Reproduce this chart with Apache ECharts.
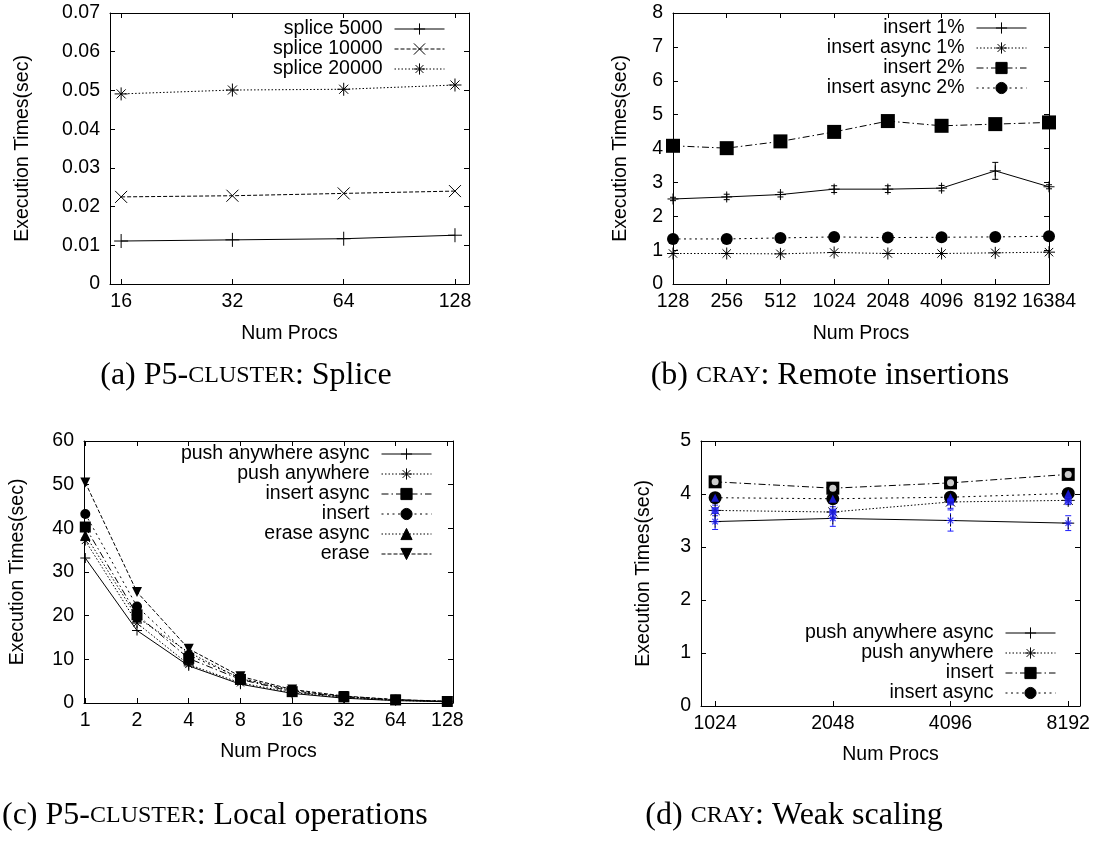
<!DOCTYPE html>
<html>
<head>
<meta charset="utf-8">
<script src="https://cdn.jsdelivr.net/npm/echarts@6/dist/echarts.min.js"></script>
<style>
  html, body { margin: 0; padding: 0; background: #fff; }
  #wrap { position: relative; width: 1108px; height: 842px; }
  .panel { position: absolute; width: 554px; height: 421px; }
</style>
</head>
<body>
<div id="wrap">
  <div class="panel" id="pa" style="left:0;top:0"></div>
  <div class="panel" id="pb" style="left:554px;top:0"></div>
  <div class="panel" id="pc" style="left:0;top:421px"></div>
  <div class="panel" id="pd" style="left:554px;top:421px"></div>
</div>
<script>
// ---------- (a) P5-cluster: splice ----------
const spliceProcs = [16, 32, 64, 128];
const splice5000  = [0.0111, 0.0114, 0.0117, 0.0126];
const splice10000 = [0.0225, 0.0228, 0.0234, 0.0240];
const splice20000 = [0.0491, 0.0501, 0.0503, 0.0514];

// ---------- (b) Cray: remote insertions ----------
const remoteProcs   = [128, 256, 512, 1024, 2048, 4096, 8192, 16384];
const insert1       = [2.51, 2.57, 2.64, 2.80, 2.80, 2.83, 3.34, 2.87];
const insert1Err    = [0.05, 0.08, 0.07, 0.10, 0.10, 0.08, 0.25, 0.06];
const insertAsync1  = [0.90, 0.90, 0.89, 0.93, 0.90, 0.90, 0.92, 0.94];
const insert2       = [4.08, 4.01, 4.21, 4.49, 4.81, 4.67, 4.72, 4.77];
const insertAsync2  = [1.33, 1.33, 1.36, 1.39, 1.37, 1.38, 1.39, 1.41];

// ---------- (c) P5-cluster: local operations ----------
const localProcs        = [1, 2, 4, 8, 16, 32, 64, 128];
const localPushAnyAsync = [33.2, 16.6, 8.5, 4.3, 2.2, 1.1, 0.55, 0.28];
const localPushAny      = [37.2, 18.3, 8.8, 4.6, 2.4, 1.2, 0.60, 0.30];
const localInsertAsync  = [40.3, 20.2, 10.2, 5.4, 2.6, 1.4, 0.70, 0.35];
const localInsert       = [43.3, 22.1, 11.0, 5.7, 2.9, 1.5, 0.75, 0.38];
const localEraseAsync   = [38.5, 19.6, 11.6, 5.6, 2.8, 1.45, 0.72, 0.36];
const localErase        = [50.5, 25.4, 12.4, 6.1, 3.1, 1.6, 0.80, 0.40];

// ---------- (d) Cray: weak scaling ----------
const weakProcs          = [1024, 2048, 4096, 8192];
const weakPushAnyAsync   = [3.48, 3.54, 3.50, 3.45];
const weakPushAnyAsyncEr = [0.15, 0.15, 0.20, 0.14];
const weakPushAny        = [3.69, 3.66, 3.85, 3.88];
const weakPushAnyEr      = [0.10, 0.10, 0.12, 0.08];
const weakInsert         = [4.23, 4.11, 4.21, 4.37];
const weakInsertEr       = [0.08, 0.08, 0.08, 0.06];
const weakInsertAsync    = [3.93, 3.91, 3.94, 4.01];
const weakInsertAsyncEr  = [0.08, 0.08, 0.08, 0.06];

// tick positions (processor counts)
const spliceTicks = [16, 32, 64, 128];
const localTicks  = [1, 2, 4, 8, 16, 32, 64, 128];
const weakTicks   = [1024, 2048, 4096, 8192];

// ---------- shared styling ----------
const SANS = 'Liberation Sans, Arial, sans-serif';
const SERIF = 'Liberation Serif, Times New Roman, serif';
const FS = 19.5;

const SYM = {
  plus:  'path://M0,5L10,5M5,0L5,10',
  cross: 'path://M0,0L10,10M0,10L10,0',
  star:  'path://M0,5L10,5M5,0L5,10M1.5,1.5L8.5,8.5M1.5,8.5L8.5,1.5'
};
const DASH = {
  solid: 'solid',
  dashed: [4, 2],
  dotted: [1.5, 2],
  dotted2: [2, 3.5],
  dashdot: [7, 3, 1.5, 3]
};

const log2 = Math.log2;

function line(name, xs, ys, o) {
  const stroke = o.stroke === true;
  return {
    type: 'line', name,
    data: xs.map((p, i) => [log2(p), ys[i]]),
    symbol: o.symbol, symbolSize: o.size, symbolRotate: o.rotate || 0,
    showSymbol: true, silent: true, animation: false, z: o.z || 3,
    lineStyle: { color: '#000', width: 1, type: o.dash },
    itemStyle: stroke
      ? { color: 'rgba(0,0,0,0)', borderColor: '#000', borderWidth: 1 }
      : { color: '#000', borderColor: '#000', borderWidth: 0 },
    emphasis: { disabled: true }
  };
}

function markers(name, xs, ys, o) {
  const stroke = o.stroke === true;
  return {
    type: 'scatter', name,
    data: xs.map((p, i) => [log2(p), ys[i]]),
    symbol: o.symbol, symbolSize: o.size,
    silent: true, animation: false, z: o.z || 5,
    itemStyle: stroke
      ? { color: 'rgba(0,0,0,0)', borderColor: o.color, borderWidth: 1.2 }
      : { color: o.color, borderColor: o.color, borderWidth: 0 },
    emphasis: { disabled: true }
  };
}

function errorBars(name, xs, ys, errs, color, dash) {
  return {
    type: 'custom', name, silent: true, animation: false, z: 2,
    data: xs.map((p, i) => [log2(p), ys[i] - errs[i], ys[i] + errs[i]]),
    encode: { x: 0, y: [1, 2] },
    renderItem: (params, api) => {
      const x = api.value(0);
      const lo = api.coord([x, api.value(1)]);
      const hi = api.coord([x, api.value(2)]);
      const cap = 3;
      const st = { stroke: color, lineWidth: 1, lineDash: dash || null };
      return {
        type: 'group',
        children: [
          { type: 'line', shape: { x1: lo[0], y1: lo[1], x2: hi[0], y2: hi[1] }, style: st },
          { type: 'line', shape: { x1: lo[0] - cap, y1: lo[1], x2: lo[0] + cap, y2: lo[1] }, style: { stroke: color, lineWidth: 1 } },
          { type: 'line', shape: { x1: hi[0] - cap, y1: hi[1], x2: hi[0] + cap, y2: hi[1] }, style: { stroke: color, lineWidth: 1 } }
        ]
      };
    }
  };
}

function xAxes(min, max, ticks, nameGap, interval) {
  const tickVals = ticks ? ticks.map(log2) : null;
  const fmt = v => String(Math.round(Math.pow(2, v)));
  const base = {
    type: 'value', min, max,
    splitLine: { show: false },
    axisLine: { show: true, onZero: false, lineStyle: { color: '#000', width: 1 } },
    axisTick: { show: true, inside: true, length: 5, lineStyle: { color: '#000' } }
  };
  if (interval) base.interval = interval;
  if (tickVals) base.axisTick.customValues = tickVals;
  const bottom = Object.assign({}, base, {
    position: 'bottom',
    name: 'Num Procs', nameLocation: 'middle', nameGap,
    nameTextStyle: { fontFamily: SANS, fontSize: FS, color: '#000' },
    axisLabel: { show: true, margin: 8, fontFamily: SANS, fontSize: FS, color: '#000', formatter: fmt }
  });
  if (tickVals) bottom.axisLabel.customValues = tickVals;
  const top = Object.assign({}, base, { position: 'top', axisLabel: { show: false } });
  return [bottom, top];
}

function yAxes(max, interval, nameGap, fmt) {
  const base = {
    type: 'value', min: 0, max, interval,
    splitLine: { show: false },
    axisLine: { show: true, onZero: false, lineStyle: { color: '#000', width: 1 } },
    axisTick: { show: true, inside: true, length: 5, lineStyle: { color: '#000' } }
  };
  const left = Object.assign({}, base, {
    position: 'left',
    name: 'Execution Times(sec)', nameLocation: 'middle', nameGap,
    nameTextStyle: { fontFamily: SANS, fontSize: FS, color: '#000' },
    axisLabel: { margin: 10, fontFamily: SANS, fontSize: FS, color: '#000', formatter: fmt || (v => String(v)) }
  });
  const right = Object.assign({}, base, { position: 'right', axisLabel: { show: false } });
  return [left, right];
}

function legend(names, right, top, rowH) {
  return {
    data: names, orient: 'vertical', align: 'right',
    right, top, padding: 0, itemGap: 0,
    itemWidth: 50, itemHeight: 14,
    selectedMode: false,
    itemStyle: { borderWidth: 1 },
    lineStyle: { width: 1 },
    textStyle: { fontFamily: SANS, fontSize: FS, color: '#000', lineHeight: rowH, padding: [0, 7, 0, 0] }
  };
}

function caption(x, y, label, smallcaps, rest, align) {
  return {
    type: 'text', x, y, silent: true,
    style: {
      text: '{n|' + label + '}{s|' + smallcaps + '}{n|' + rest + '}',
      align: align || 'center', verticalAlign: 'middle',
      rich: {
        n: { fontFamily: SERIF, fontSize: 32, fill: '#000' },
        s: { fontFamily: SERIF, fontSize: 24, fill: '#000' }
      }
    }
  };
}

// ---------- (a) ----------
echarts.init(document.getElementById('pa'), null, { renderer: 'canvas' }).setOption({
  animation: false,
  grid: { left: 110, top: 13, width: 359, height: 271 },
  xAxis: xAxes(3.9, 7.126, spliceTicks, 40),
  yAxis: yAxes(0.07, 0.01, 77, v => (v === 0 ? '0' : v.toFixed(2))),
  legend: legend(['splice 5000', 'splice 10000', 'splice 20000'], 109, 19, 19),
  series: [
    line('splice 5000', spliceProcs, splice5000, { symbol: SYM.plus, size: 14, dash: DASH.solid, stroke: true }),
    line('splice 10000', spliceProcs, splice10000, { symbol: SYM.cross, size: 12, dash: DASH.dashed, stroke: true }),
    line('splice 20000', spliceProcs, splice20000, { symbol: SYM.star, size: 13, dash: DASH.dotted, stroke: true })
  ],
  graphic: [caption(246, 376, '(a) P5-', 'CLUSTER', ': Splice')]
});

// ---------- (b) ----------
echarts.init(document.getElementById('pb'), null, { renderer: 'canvas' }).setOption({
  animation: false,
  grid: { left: 119, top: 13, width: 376, height: 271 },
  xAxis: xAxes(7, 14, null, 40, 1),
  yAxis: yAxes(8, 1, 42),
  legend: legend(['insert 1%', 'insert async 1%', 'insert 2%', 'insert async 2%'], 81, 18, 19.7),
  series: [
    errorBars('insert 1% error', remoteProcs, insert1, insert1Err, '#000'),
    line('insert 1%', remoteProcs, insert1, { symbol: SYM.plus, size: 11, dash: DASH.solid, stroke: true }),
    line('insert async 1%', remoteProcs, insertAsync1, { symbol: SYM.star, size: 12, dash: DASH.dotted, stroke: true }),
    line('insert 2%', remoteProcs, insert2, { symbol: 'rect', size: 14, dash: DASH.dashdot }),
    line('insert async 2%', remoteProcs, insertAsync2, { symbol: 'circle', size: 12, dash: DASH.dotted2 })
  ],
  graphic: [caption(276, 376, '(b) ', 'CRAY', ': Remote insertions')]
});

// ---------- (c) ----------
echarts.init(document.getElementById('pc'), null, { renderer: 'canvas' }).setOption({
  animation: false,
  grid: { left: 82, top: 20, width: 371, height: 262 },
  xAxis: xAxes(-0.025, 7.11, localTicks, 39),
  yAxis: yAxes(60, 10, 56),
  legend: legend(['push anywhere async', 'push anywhere', 'insert async', 'insert', 'erase async', 'erase'], 122, 23, 19.3),
  series: [
    line('push anywhere async', localProcs, localPushAnyAsync, { symbol: SYM.plus, size: 10, dash: DASH.solid, stroke: true }),
    line('push anywhere', localProcs, localPushAny, { symbol: SYM.star, size: 10, dash: DASH.dotted, stroke: true }),
    line('insert async', localProcs, localInsertAsync, { symbol: 'rect', size: 11, dash: DASH.dashdot }),
    line('insert', localProcs, localInsert, { symbol: 'circle', size: 10, dash: DASH.dotted2 }),
    line('erase async', localProcs, localEraseAsync, { symbol: 'triangle', size: 10, dash: DASH.dotted }),
    line('erase', localProcs, localErase, { symbol: 'triangle', rotate: 180, size: 10, dash: DASH.dashed })
  ],
  graphic: [caption(2, 395, '(c) P5-', 'CLUSTER', ': Local operations', 'left')]
});

// ---------- (d) ----------
echarts.init(document.getElementById('pd'), null, { renderer: 'canvas' }).setOption({
  animation: false,
  grid: { left: 147, top: 20, width: 379, height: 265 },
  xAxis: xAxes(9.88, 13.1, weakTicks, 39),
  yAxis: yAxes(5, 1, 47),
  legend: legend(['push anywhere async', 'push anywhere', 'insert', 'insert async'], 52, 202, 20),
  series: [
    errorBars('push anywhere async error', weakProcs, weakPushAnyAsync, weakPushAnyAsyncEr, '#1f1fff', [3, 2]),
    errorBars('push anywhere error', weakProcs, weakPushAny, weakPushAnyEr, '#1f1fff', [3, 2]),
    errorBars('insert error', weakProcs, weakInsert, weakInsertEr, '#1f1fff', [3, 2]),
    errorBars('insert async error', weakProcs, weakInsertAsync, weakInsertAsyncEr, '#1f1fff', [3, 2]),
    line('push anywhere async', weakProcs, weakPushAnyAsync, { symbol: SYM.plus, size: 12, dash: DASH.solid, stroke: true }),
    line('push anywhere', weakProcs, weakPushAny, { symbol: SYM.star, size: 13, dash: DASH.dotted, stroke: true }),
    line('insert', weakProcs, weakInsert, { symbol: 'rect', size: 13, dash: DASH.dashdot }),
    line('insert async', weakProcs, weakInsertAsync, { symbol: 'circle', size: 13, dash: DASH.dotted2 }),
    markers('push anywhere async run 2', weakProcs, weakPushAnyAsync, { symbol: SYM.star, size: 8, color: '#1f1fff', stroke: true }),
    markers('push anywhere run 2', weakProcs, weakPushAny, { symbol: 'rect', size: 7, color: '#1f1fff' }),
    markers('insert run 2', weakProcs, weakInsert, { symbol: 'emptyCircle', size: 7, color: '#2a2aff', stroke: true }),
    markers('insert async run 2', weakProcs, weakInsertAsync, { symbol: 'triangle', size: 8, color: '#1f1fff' })
  ],
  graphic: [caption(240, 395, '(d) ', 'CRAY', ': Weak scaling')]
});
</script>
</body>
</html>
